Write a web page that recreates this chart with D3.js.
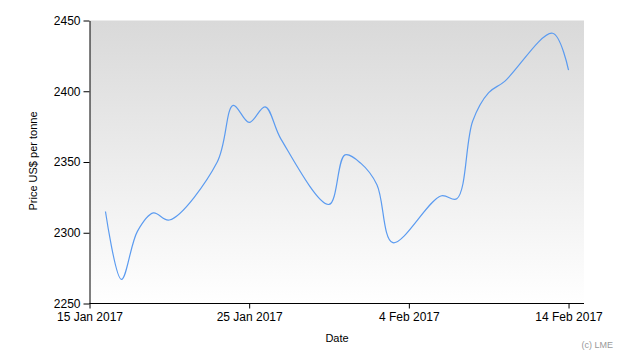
<!DOCTYPE html>
<html><head><meta charset="utf-8">
<script src="https://cdn.jsdelivr.net/npm/d3@7"></script>
<style>body{margin:0;background:#fff}svg{display:block}</style>
</head><body>
<svg id="c" width="630" height="360"></svg>
<script>
const dates = ["2017-01-16","2017-01-17","2017-01-18","2017-01-19","2017-01-20",
  "2017-01-23","2017-01-24","2017-01-25","2017-01-26","2017-01-27",
  "2017-01-30","2017-01-31","2017-02-01","2017-02-02","2017-02-03",
  "2017-02-06","2017-02-07","2017-02-08","2017-02-09","2017-02-10",
  "2017-02-13","2017-02-14"];
const prices = [2315,2267,2301,2314,2309,
  2350,2390,2378,2389,2366,
  2320,2355,2349,2334,2293,
  2326,2324,2379,2399,2407,
  2441,2415];
const yTicks = [2250,2300,2350,2400,2450];
const xTickDates = ["2017-01-15","2017-01-25","2017-02-04","2017-02-14"];
const xTickLabels = ["15 Jan 2017","25 Jan 2017","4 Feb 2017","14 Feb 2017"];

const parse = d3.utcParse("%Y-%m-%d");
const data = dates.map((d,i)=>({date:parse(d), v:prices[i]}));
const svg = d3.select("#c");
const L=90, R=584, T=20.5, B=303.5;
const x = d3.scaleUtc().domain([parse("2017-01-15"), parse("2017-02-15")]).range([89.5, 584.5]);
const y = d3.scaleLinear().domain([2250,2450]).range([B, T]);

const defs = svg.append("defs");
const g = defs.append("linearGradient").attr("id","bg").attr("x1",0).attr("y1",0).attr("x2",0).attr("y2",1);
g.append("stop").attr("offset","0%").attr("stop-color","#d9d9d9");
g.append("stop").attr("offset","100%").attr("stop-color","#ffffff");
svg.append("rect").attr("x",L).attr("y",T).attr("width",R-L).attr("height",B-T).attr("fill","url(#bg)");

const line = d3.line().x(d=>x(d.date)).y(d=>y(d.v)).curve(d3.curveCatmullRom.alpha(0.5));
svg.append("path").datum(data).attr("d",line).attr("fill","none").attr("stroke","#5b9bf0").attr("stroke-width",1.2);

const font = "'Liberation Sans', Arial, sans-serif";
const yAxis = svg.append("g").attr("transform",`translate(${L-0.5},0)`)
  .call(d3.axisLeft(y).tickValues(yTicks).tickFormat(d3.format("d")).tickSize(6).tickSizeOuter(0).tickPadding(3));
const xAxis = svg.append("g").attr("transform",`translate(0,${B})`)
  .call(d3.axisBottom(x).tickValues(xTickDates.map(parse)).tickFormat((d,i)=>xTickLabels[i]).tickSize(5).tickSizeOuter(0).tickPadding(4));
[yAxis,xAxis].forEach(a=>{
  a.selectAll("path,line").attr("stroke","#000");
  a.selectAll("text").attr("fill","#000").style("font-family",font).style("font-size","12px");
});
xAxis.select(".domain").attr("d",`M${L-0.5},0H${R}`);

svg.append("text").attr("transform","translate(37,161) rotate(-90)").attr("text-anchor","middle")
  .style("font-family",font).style("font-size","11px").text("Price US$ per tonne");
svg.append("text").attr("x",337).attr("y",342).attr("text-anchor","middle")
  .style("font-family",font).style("font-size","11px").text("Date");
svg.append("text").attr("x",613).attr("y",348).attr("text-anchor","end").attr("fill","#999")
  .style("font-family",font).style("font-size","9px").text("(c) LME");
</script>
</body></html>
